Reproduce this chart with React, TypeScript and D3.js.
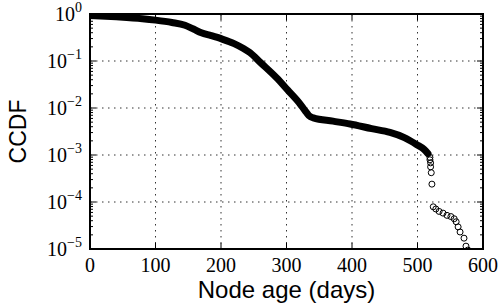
import React from "react";
import * as d3 from "d3";

// Dense part of the CCDF (day, log10 CCDF)
const denseDays = [0, 40, 80, 100, 125, 145, 158, 170, 185, 201, 220, 235, 244, 260, 285, 302, 320, 328, 334, 341, 371, 397, 430, 458, 480, 499, 510, 516];
const denseLog = [-0.03, -0.06, -0.1, -0.13, -0.18, -0.24, -0.32, -0.4, -0.46, -0.53, -0.63, -0.74, -0.82, -1.03, -1.36, -1.62, -1.9, -2.05, -2.16, -2.21, -2.28, -2.34, -2.44, -2.52, -2.63, -2.78, -2.88, -2.97];

// Sparse tail points (day, CCDF)
const tailDays = [519, 519, 520, 520, 521, 522, 524, 528, 533, 539, 545, 551, 556, 559, 562, 565, 571, 574, 577];
const tailValues = [8.9e-4, 7.9e-4, 6.8e-4, 5.6e-4, 4.2e-4, 2.4e-4, 7.9e-5, 7.1e-5, 6.3e-5, 5.8e-5, 5.2e-5, 4.9e-5, 4.4e-5, 3.8e-5, 2.95e-5, 2.3e-5, 1.7e-5, 1.15e-5, 0.95e-5];

const xTicks = [0, 100, 200, 300, 400, 500, 600];
const yExponents = [0, -1, -2, -3, -4, -5];

const W = 499, H = 307;
const L = 90, R = 483, T = 14, B = 249;

export default function App() {
  const x = d3.scaleLinear().domain([0, 600]).range([L, R]);
  const y = d3.scaleLog().domain([1e-5, 1]).range([B, T]);

  const dense = denseDays.map((d, i) => [d, Math.pow(10, denseLog[i])] as [number, number]);
  const line = d3.line<[number, number]>().x(d => x(d[0])).y(d => y(d[1])).curve(d3.curveMonotoneX);

  const minor: number[] = [];
  for (let e = -5; e < 0; e++) for (let k = 2; k <= 9; k++) minor.push(k * Math.pow(10, e));

  const serif = { fontFamily: "Liberation Serif, DejaVu Serif, Times New Roman, serif" };
  const sans = { fontFamily: "Liberation Sans, Arial, Helvetica, sans-serif" };

  return (
    <svg width={W} height={H} style={{ position: "absolute", left: 0, top: 0, background: "#fff" }}>
      <defs>
        <clipPath id="plot">
          <rect x={L} y={T} width={R - L} height={B - T} />
        </clipPath>
      </defs>
      <rect x={0} y={0} width={W} height={H} fill="#fff" />
      {/* grid */}
      <g stroke="#000" strokeWidth={1} strokeDasharray="1.5,4.5" opacity={0.8}>
        {xTicks.slice(1, -1).map(t => (
          <line key={"gx" + t} x1={x(t)} x2={x(t)} y1={T} y2={B} />
        ))}
        {yExponents.slice(1, -1).map(e => (
          <line key={"gy" + e} x1={L} x2={R} y1={y(Math.pow(10, e))} y2={y(Math.pow(10, e))} />
        ))}
      </g>
      {/* ticks */}
      <g stroke="#000" strokeWidth={1}>
        {xTicks.map(t => (
          <g key={"tx" + t}>
            <line x1={x(t)} x2={x(t)} y1={B} y2={B - 6} />
            <line x1={x(t)} x2={x(t)} y1={T} y2={T + 6} />
          </g>
        ))}
        {yExponents.map(e => (
          <g key={"ty" + e}>
            <line x1={L} x2={L + 6} y1={y(Math.pow(10, e))} y2={y(Math.pow(10, e))} />
            <line x1={R} x2={R - 6} y1={y(Math.pow(10, e))} y2={y(Math.pow(10, e))} />
          </g>
        ))}
        {minor.map((m, i) => (
          <g key={"tm" + i}>
            <line x1={L} x2={L + 3} y1={y(m)} y2={y(m)} />
            <line x1={R} x2={R - 3} y1={y(m)} y2={y(m)} />
          </g>
        ))}
      </g>
      {/* data */}
      <g clipPath="url(#plot)">
        <path d={line(dense) || ""} fill="none" stroke="#000" strokeWidth={7} strokeLinejoin="round" strokeLinecap="round" />
        {tailDays.map((d, i) => (
          <circle key={"c" + i} cx={x(d)} cy={y(tailValues[i])} r={3} fill="none" stroke="#000" strokeWidth={1} />
        ))}
      </g>
      {/* frame */}
      <rect x={L} y={T} width={R - L} height={B - T} fill="none" stroke="#000" strokeWidth={2} />
      {/* x tick labels */}
      {xTicks.map(t => (
        <text key={"lx" + t} x={x(t)} y={272} textAnchor="middle" style={serif} fontSize={20} fill="#000">
          {t}
        </text>
      ))}
      {/* y tick labels */}
      {yExponents.map(e => (
        <text key={"ly" + e} x={82} y={y(Math.pow(10, e)) + 7} textAnchor="end" style={serif} fontSize={20} fill="#000">
          10
          <tspan dy={-9} fontSize={14}>{e === 0 ? "0" : "\u2212" + Math.abs(e)}</tspan>
        </text>
      ))}
      {/* axis titles */}
      <text x={(L + R) / 2} y={298} textAnchor="middle" style={sans} fontSize={24} fill="#000">
        Node age (days)
      </text>
      <text transform={`translate(26,${(T + B) / 2}) rotate(-90)`} textAnchor="middle" style={sans} fontSize={23} fill="#000">
        CCDF
      </text>
    </svg>
  );
}
